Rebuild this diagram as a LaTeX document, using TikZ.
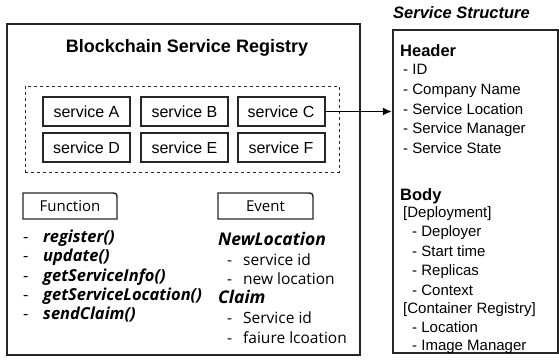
\documentclass[tikz,border=0pt]{standalone}
\usepackage{fontspec}
\setmainfont{Liberation Sans}
\newfontfamily\kfont{Open Sans}
\usetikzlibrary{arrows.meta}
\tikzset{
  frame/.style={draw=black!85, line width=2.2pt},
  svc/.style={draw=black!85, line width=2pt, minimum width=87pt, minimum height=29pt, inner sep=0pt, font=\fontsize{16}{18}\selectfont},
  tab/.style={draw=black!85, line width=1.4pt},
  fitem/.style={anchor=west, inner sep=0pt, text height=0.72em, text depth=0pt, font=\kfont\fontsize{16.5}{18}\selectfont\bfseries\itshape},
  eitem/.style={anchor=west, inner sep=0pt, text height=0.72em, text depth=0pt, font=\kfont\fontsize{15.5}{17}\selectfont},
  ebold/.style={eitem, font=\kfont\fontsize{17.5}{19}\selectfont\bfseries\itshape},
  sitem/.style={anchor=west, inner sep=0pt, text height=0.72em, text depth=0pt, font=\fontsize{15}{17}\selectfont},
  shead/.style={anchor=west, inner sep=0pt, text height=0.72em, text depth=0pt, font=\fontsize{16.5}{18}\selectfont\bfseries},
}
\begin{document}
\begin{tikzpicture}[x=1pt,y=-1pt]
\useasboundingbox (0,0) rectangle (559,362);
% big registry box
\node[frame, minimum width=353pt, minimum height=331pt, inner sep=0pt] (reg) at (183.5,189.5) {};
\node[inner sep=0pt, font=\fontsize{18}{20}\selectfont\bfseries] (title) at (187,48) {Blockchain Service Registry};
% dashed container
\node[draw=black!85, dashed, line width=1pt, minimum width=314pt, minimum height=86pt, inner sep=0pt] (dash) at (182,129) {};
\node[svc] (sA) at (86.5,111.5) {service A};
\node[svc] (sB) at (184.5,111.5) {service B};
\node[svc] (sC) at (281,111.5) {service C};
\node[svc] (sD) at (86.5,147.5) {service D};
\node[svc] (sE) at (184.5,147.5) {service E};
\node[svc] (sF) at (281,147.5) {service F};
% structure box
\node[frame, minimum width=165pt, minimum height=323pt, inner sep=0pt] (sbox) at (475.5,191.5) {};
\node[anchor=west, inner sep=0pt, text height=0.72em, text depth=0pt, font=\fontsize{16.5}{18}\selectfont\bfseries\itshape] (stitle) at (393,15) {Service Structure};
\draw[line width=1.8pt, -{Latex[length=9pt,width=8pt]}] (sC.east) -- (sbox.west |- sC.east);
% Function tab
\draw[tab] (23,219) -- (23,193) -- (110,193) .. controls (117,193) .. (117,200) -- (117,219) -- cycle;
\node[inner sep=0pt, font=\kfont\fontsize{15}{17}\selectfont] (ftab) at (70,206.5) {Function};
% Event tab
\draw[tab] (218,219) -- (218,193) -- (306,193) .. controls (313,193) .. (313,200) -- (313,219) -- cycle;
\node[inner sep=0pt, font=\kfont\fontsize{15}{17}\selectfont] (etab) at (265.5,206.5) {Event};
% function list
\node[fitem] (f1) at (23,239) {\makebox[20pt][l]{\mdseries\upshape -}register()};
\node[fitem] (f2) at (23,258.3) {\makebox[20pt][l]{\mdseries\upshape -}update()};
\node[fitem] (f3) at (23,277.6) {\makebox[20pt][l]{\mdseries\upshape -}getServiceInfo()};
\node[fitem] (f4) at (23,296.9) {\makebox[20pt][l]{\mdseries\upshape -}getServiceLocation()};
\node[fitem] (f5) at (23,316.2) {\makebox[20pt][l]{\mdseries\upshape -}sendClaim()};
% event list
\node[ebold] (e1) at (218,242) {NewLocation};
\node[eitem] (e2) at (227,262) {\makebox[16pt][l]{-}service id};
\node[eitem] (e3) at (227,281) {\makebox[16pt][l]{-}new location};
\node[ebold] (e4) at (218,300) {Claim};
\node[eitem] (e5) at (227,320) {\makebox[16pt][l]{-}Service id};
\node[eitem] (e6) at (227,340) {\makebox[16pt][l]{-}faiure lcoation};
% structure content
\node[shead] (h) at (400,53) {Header};
\node[sitem] (h1) at (403,71) {- ID};
\node[sitem] (h2) at (403,90.5) {- Company Name};
\node[sitem] (h3) at (403,110.5) {- Service Location};
\node[sitem] (h4) at (403,130) {- Service Manager};
\node[sitem] (h5) at (403,150) {- Service State};
\node[shead] (b) at (400,197) {Body};
\node[sitem] (b1) at (403,214) {[Deployment]};
\node[sitem] (b2) at (412,233) {- Deployer};
\node[sitem] (b3) at (412,253) {- Start time};
\node[sitem] (b4) at (412,272) {- Replicas};
\node[sitem] (b5) at (412,292) {- Context};
\node[sitem] (b6) at (403,310) {[Container Registry]};
\node[sitem] (b7) at (412,328.5) {- Location};
\node[sitem] (b8) at (412,347) {- Image Manager};
\end{tikzpicture}
\end{document}
